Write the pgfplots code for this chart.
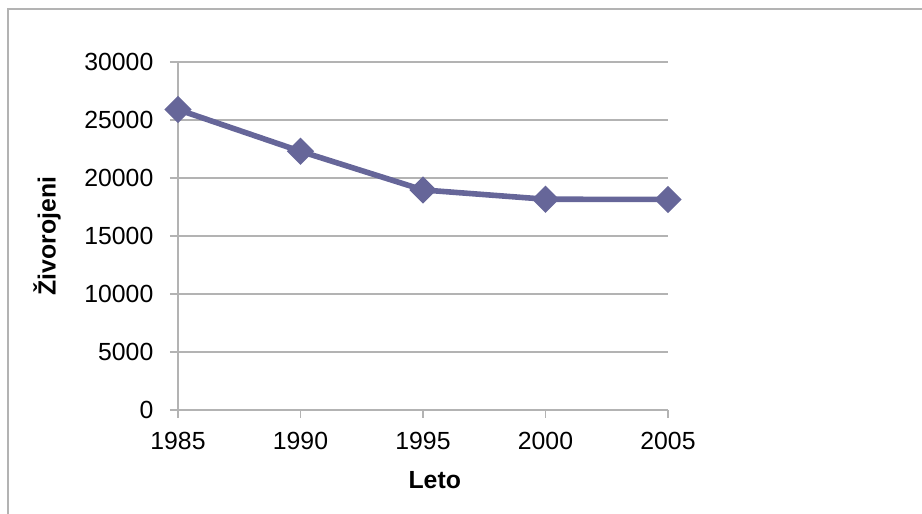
\documentclass[border=0pt]{standalone}
\usepackage{pgfplots}
\pgfplotsset{compat=1.18}
\usepackage{fontspec}
\setmainfont{Liberation Sans}
\definecolor{serie}{RGB}{102,102,153}
\definecolor{mreza}{RGB}{179,179,179}
\begin{document}
\fontsize{12.4}{14}\selectfont
\begin{tikzpicture}
\path[use as bounding box] (0,0) rectangle (461pt,257pt);
\draw[mreza, line width=0.6pt] (4pt,0) -- (4pt,252.5pt) -- (461pt,252.5pt);
\begin{axis}[
    at={(89pt,52pt)}, anchor=south west,
    scale only axis,
    width=245pt, height=174pt,
    xmin=1985, xmax=2005,
    ymin=0, ymax=30000,
    xtick={1985,1990,1995,2000,2005},
    ytick={0,5000,10000,15000,20000,25000,30000},
    scaled ticks=false,
    axis x line*=bottom, axis y line*=left,
    axis line style={mreza, line width=0.6pt, -},
    tick style={mreza, line width=0.6pt},
    tick align=outside,
    major tick length=4pt,
    ymajorgrids,
    grid style={mreza, line width=0.6pt},
    /pgf/number format/1000 sep={},
    /pgf/number format/assume math mode=true,
    ticklabel style={font=\fontsize{12.4}{14}\selectfont},
    yticklabel style={xshift=-4pt},
    xticklabel style={yshift=-3pt},
    xlabel={\textbf{Leto}},
    ylabel={\textbf{Živorojeni}},
    xlabel style={at={(axis description cs:0.524,-0.201)}, anchor=center},
    ylabel style={at={(axis description cs:-0.267,0.5)}, anchor=center, rotate=0},
    label style={font=\fontsize{12.4}{14}\selectfont},
    clip=false,
]
\addplot[serie, line width=2.8pt, mark=square*,
    mark options={rotate=45, solid, fill=serie}, mark size=3.4pt]
coordinates {
    (1985,25900) (1990,22300) (1995,18970) (2000,18170) (2005,18150)
};
\end{axis}
\end{tikzpicture}
\end{document}
